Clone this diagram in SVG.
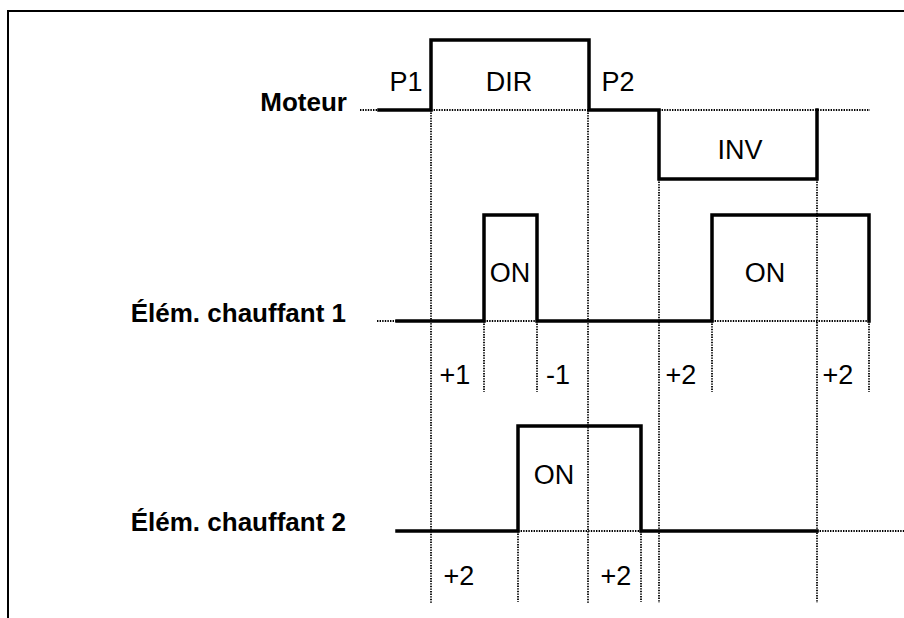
<svg xmlns="http://www.w3.org/2000/svg" width="904" height="618" viewBox="0 0 904 618">
<style>
.sig{fill:none;stroke:#000;stroke-width:3.5;stroke-linejoin:miter;stroke-linecap:square}
.dot{fill:none;stroke:#000;stroke-width:1.8;stroke-dasharray:1.4 1.2}
.lbl{font-family:"Liberation Sans",Arial,sans-serif;font-size:26px;font-weight:bold;fill:#000;text-anchor:end}
.t{font-family:"Liberation Sans",Arial,sans-serif;font-size:27px;fill:#000;text-anchor:middle}
</style>
<rect width="904" height="618" fill="#fff"/>
<path d="M8,620 V11 H906" fill="none" stroke="#000" stroke-width="2"/>
<g id="connectors">
<path class="dot" d="M360,110 H378 M431,110 H589 M659,110 H870"/>
<path class="dot" d="M377,321 H396 M484,321 H537 M712,321 H869"/>
<path class="dot" d="M518,531 H641 M817,531 H904"/>
<path class="dot" d="M431,110 V603 M588,110 V603 M659,179 V603 M817,179 V603"/>
<path class="dot" d="M484,321 V392 M537,321 V392 M712,321 V392 M869,321 V392"/>
<path class="dot" d="M518,531 V602 M641,531 V602"/>
</g>
<g id="moteur">
<text class="lbl" x="347" y="111">Moteur</text>
<path class="sig" d="M379,110 H431 V40 H589 V110 H659 V179 H817 V110"/>
<text class="t" x="406" y="91">P1</text>
<text class="t" x="509" y="91">DIR</text>
<text class="t" x="618" y="91">P2</text>
<text class="t" x="740" y="159">INV</text>
</g>
<g id="chauffant1">
<text class="lbl" x="346" y="322">Élém. chauffant 1</text>
<path class="sig" d="M397,321 H484 V215 H537 V321 H712 V215 H869 V321"/>
<text class="t" x="510" y="282">ON</text>
<text class="t" x="765" y="282">ON</text>
<text class="t" x="455" y="384">+1</text>
<text class="t" x="558" y="384">-1</text>
<text class="t" x="681" y="384">+2</text>
<text class="t" x="838" y="384">+2</text>
</g>
<g id="chauffant2">
<text class="lbl" x="346" y="531">Élém. chauffant 2</text>
<path class="sig" d="M397,531 H518 V426 H641 V531 H817"/>
<text class="t" x="554" y="484">ON</text>
<text class="t" x="459" y="585">+2</text>
<text class="t" x="616" y="585">+2</text>
</g>
</svg>
